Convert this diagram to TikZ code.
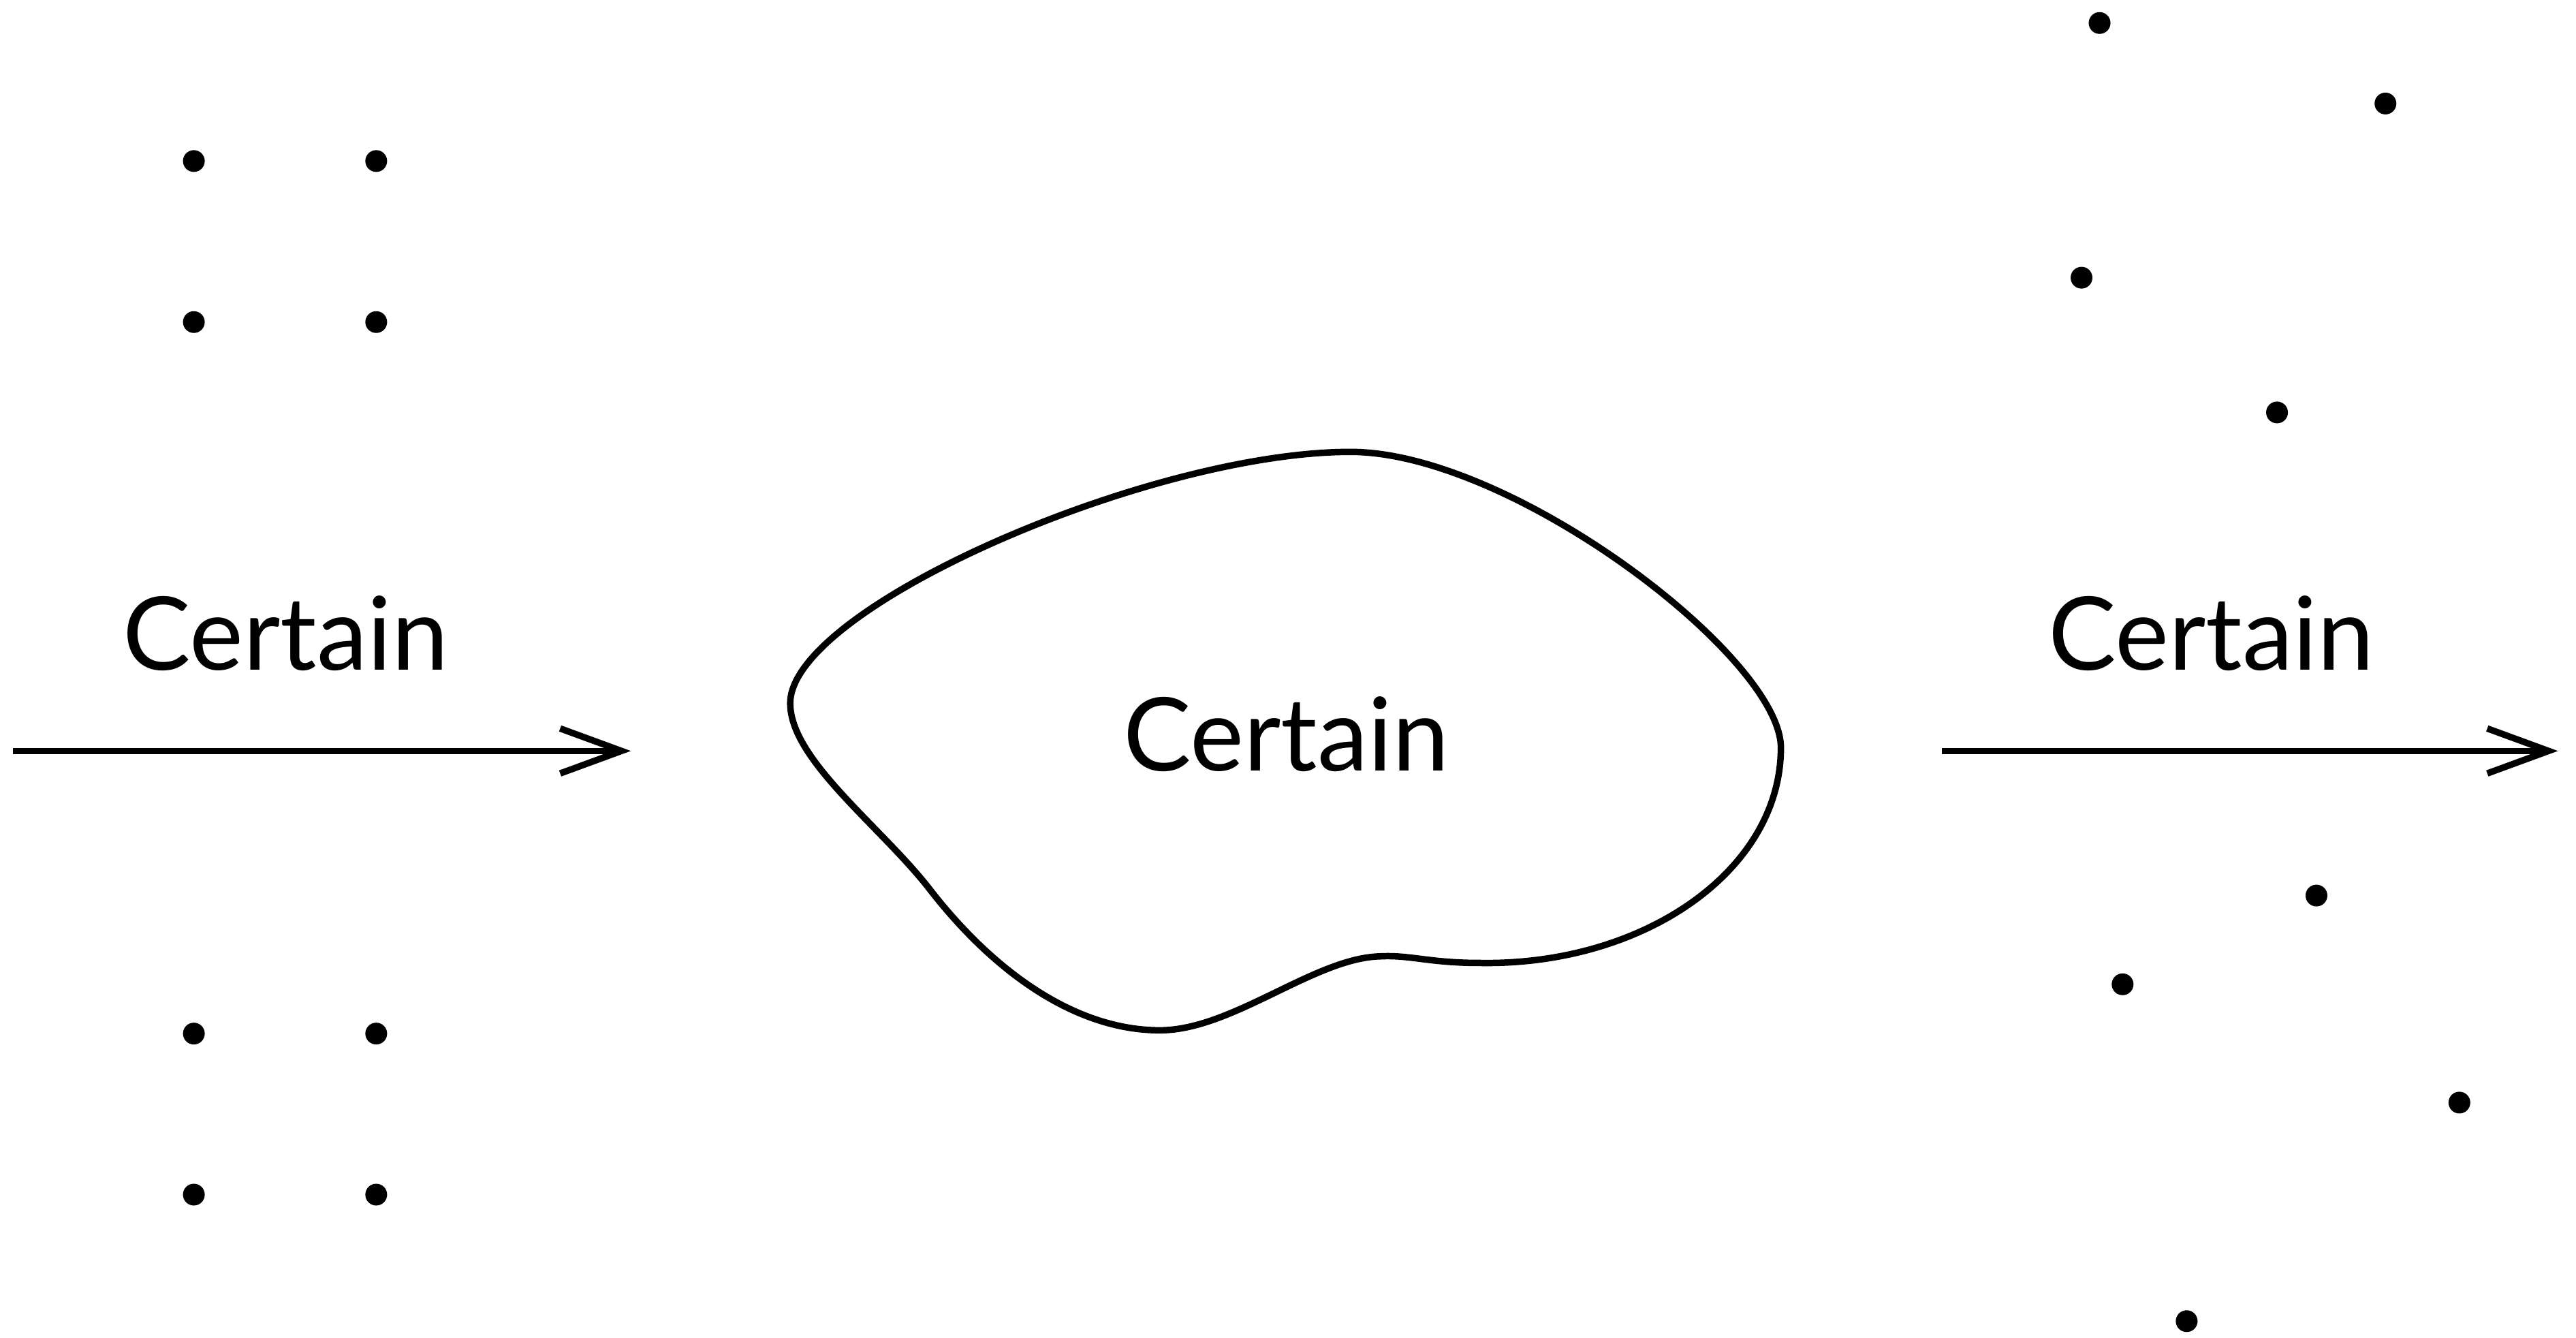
\documentclass[tikz,border=0pt]{standalone}
\usepackage{fontspec}
\setmainfont{Lato}
\usetikzlibrary{arrows.meta,positioning}
\tikzset{
  lbl/.style={font=\fontsize{42.5}{50}\selectfont,inner sep=0pt,anchor=base},
  dot/.style={circle,fill=black,inner sep=0pt,minimum size=0.32cm},
  arr/.style={-{Straight Barb[length=0.9cm,width=0.66cm]},line width=2.7pt},
  blob/.style={line width=2.7pt},
}
\begin{document}
\begin{tikzpicture}[x=0.02412cm,y=-0.02412cm]
\useasboundingbox (0,0) rectangle (1568,814);
% left: ordered grid
\foreach \i/\x/\y in {1/118/98,2/229/98,3/118/196,4/229/196,5/118/629,6/229/629,7/118/727,8/229/727}
  \node[dot] (g\i) at (\x,\y) {};
% right: scattered
\foreach \i/\x/\y in {1/1278/14,2/1452/63,3/1267/169,4/1386/251,5/1410/545,6/1292/599,7/1497/671,8/1331/804}
  \node[dot] (s\i) at (\x,\y) {};
\coordinate (ina) at (8,457); \coordinate (inb) at (384,457);
\coordinate (outa) at (1182,457); \coordinate (outb) at (1557,457);
\draw[arr] (ina)--(inb);
\draw[arr] (outa)--(outb);
\node[lbl] (tin) at (174,407.6) {Certain};
\node[lbl] (tout) at (1346,407.6) {Certain};
% the system
\coordinate (bw) at (481,428); \coordinate (bn) at (822,275);
\coordinate (be) at (1084,455); \coordinate (bd) at (900,586);
\coordinate (bk) at (840,582); \coordinate (bs) at (706,627);
\coordinate (bf) at (565,540);
\draw[blob] (bw) .. controls (481,370) and (700,275) .. (bn)
  .. controls (920,275) and (1084,400) .. (be)
  .. controls (1084,530) and (1000,588) .. (bd)
  .. controls (870,586) and (858,581) .. (bk)
  .. controls (800,583) and (750,627) .. (bs)
  .. controls (655,627) and (605,592) .. (bf)
  .. controls (535,502) and (481,462) .. cycle;
\node[lbl] (tsys) at (783,469) {Certain};
\end{tikzpicture}
\end{document}
